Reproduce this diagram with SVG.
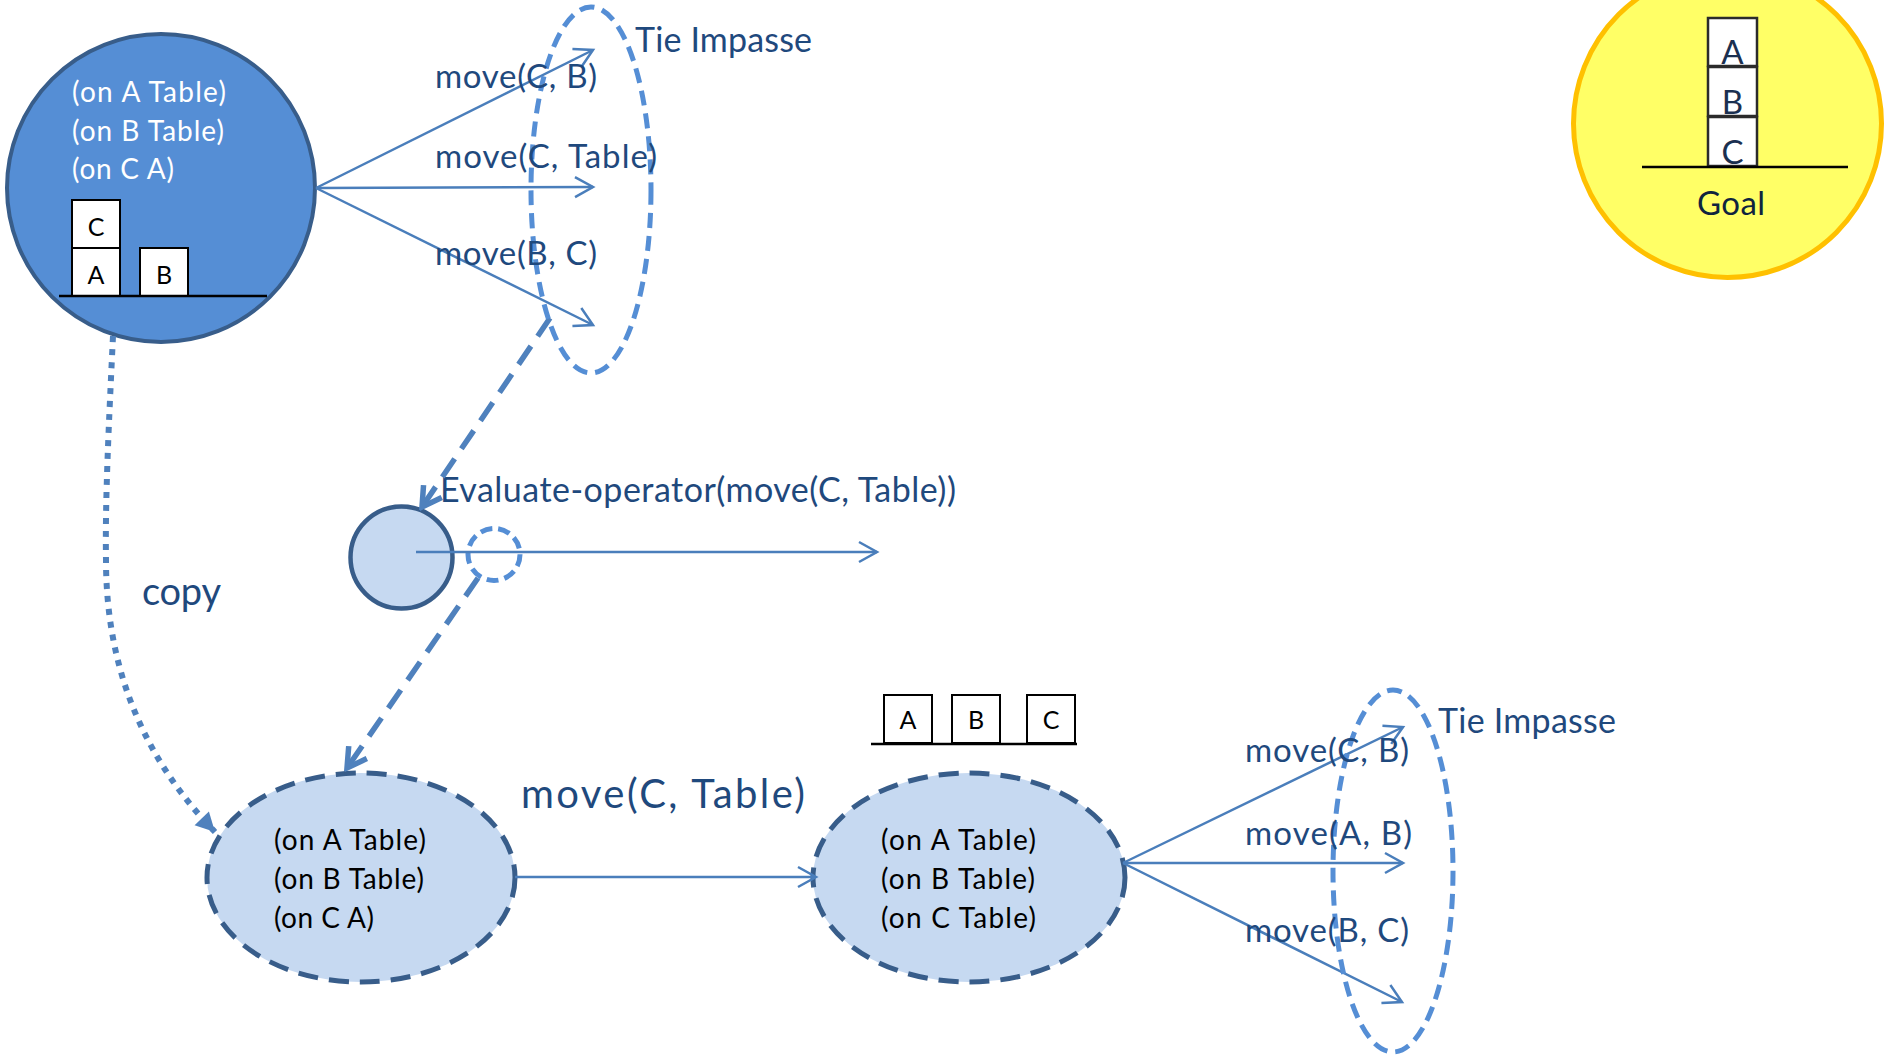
<svg xmlns="http://www.w3.org/2000/svg" width="1884" height="1055" viewBox="0 0 1884 1055">
  <style>
    text { font-family: "Lato", "Liberation Sans", sans-serif; }
    .lbl { fill: #1F497D; font-size: 33px; }
    .state-w { fill: #FFFFFF; font-size: 28px; }
    .state-k { fill: #000000; font-size: 28px; }
    .blk { fill: #FFFFFF; stroke: #000000; stroke-width: 2; }
    .blk-t { fill: #000000; font-size: 25px; text-anchor: middle; }
    .goal-blk { fill: #FFFFFF; stroke: #2B2B2B; stroke-width: 2.5; }
    .goal-t { fill: #1B3050; font-size: 33px; text-anchor: middle; }
    .ground { stroke: #000000; stroke-width: 2.5; }
    .op { fill: none; stroke: #4A7EBB; stroke-width: 2.5; marker-end: url(#open); }
    .sub { fill: none; stroke: #4F81BD; stroke-width: 5.5; stroke-dasharray: 22 12; marker-end: url(#openBold); }
    .impasse { fill: none; stroke: #558ED5; stroke-width: 5; stroke-dasharray: 15 8; }
    .sub-state { fill: #C6D9F1; stroke: #385D8A; stroke-width: 5; stroke-dasharray: 20 11; }
  </style>
  <defs>
    <marker id="open" markerUnits="userSpaceOnUse" viewBox="-22 -13 26 26" markerWidth="26" markerHeight="26" refX="0" refY="0" orient="auto">
      <path d="M-18,-10 L0,0 L-18,10" fill="none" stroke="#4A7EBB" stroke-width="2.5"/>
    </marker>
    <marker id="openBold" markerUnits="userSpaceOnUse" viewBox="-26 -16 30 32" markerWidth="30" markerHeight="32" refX="0" refY="0" orient="auto">
      <path d="M-19,-11 L0,0 L-19,11" fill="none" stroke="#4F81BD" stroke-width="5.5"/>
    </marker>
    <marker id="solidHead" markerUnits="userSpaceOnUse" viewBox="-22 -12 24 24" markerWidth="24" markerHeight="24" refX="0" refY="0" orient="auto">
      <path d="M-19,-10 L0,0 L-19,10 Z" fill="#4F81BD"/>
    </marker>
  </defs>

  <!-- initial state -->
  <g id="state-initial">
    <circle cx="161" cy="188" r="154" fill="#558ED5" stroke="#385D8A" stroke-width="4"/>
    <text class="state-w" x="72" y="102" textLength="154">(on A Table)</text>
    <text class="state-w" x="72" y="141" textLength="152">(on B Table)</text>
    <text class="state-w" x="72" y="179" textLength="102">(on C A)</text>
    <rect class="blk" x="72" y="200" width="48" height="48"/>
    <rect class="blk" x="72" y="248" width="48" height="48"/>
    <rect class="blk" x="140" y="248" width="48" height="48"/>
    <line class="ground" x1="59" y1="296" x2="267" y2="296"/>
    <text class="blk-t" x="96" y="236">C</text>
    <text class="blk-t" x="96" y="284">A</text>
    <text class="blk-t" x="164" y="284">B</text>
  </g>

  <!-- goal -->
  <g id="goal">
    <circle cx="1727.5" cy="123.5" r="154" fill="#FFFF66" stroke="#FFC000" stroke-width="5"/>
    <rect class="goal-blk" x="1708" y="18" width="49" height="48"/>
    <rect class="goal-blk" x="1708" y="67" width="49" height="49"/>
    <rect class="goal-blk" x="1708" y="117" width="49" height="49"/>
    <line class="ground" x1="1642" y1="167" x2="1848" y2="167"/>
    <text class="goal-t" x="1732.5" y="64">A</text>
    <text class="goal-t" x="1732.5" y="114">B</text>
    <text class="goal-t" x="1732.5" y="164">C</text>
    <text x="1697" y="215" textLength="68" style="fill:#0F243E; font-size:33px;">Goal</text>
  </g>

  <!-- evaluation substate -->
  <g id="evaluate">
    <circle cx="401.5" cy="557.5" r="51" fill="#C6D9F1" stroke="#385D8A" stroke-width="4.5"/>
    <circle cx="494" cy="554.5" r="26" fill="none" stroke="#558ED5" stroke-width="5" stroke-dasharray="12 6"/>
    <text class="lbl" x="440" y="502" textLength="516" style="font-size:34px;">Evaluate-operator(move(C, Table))</text>
  </g>

  <!-- copied state -->
  <g id="state-copy">
    <ellipse class="sub-state" cx="361" cy="877.5" rx="154" ry="104.5"/>
    <text class="state-k" x="274" y="850" textLength="152">(on A Table)</text>
    <text class="state-k" x="274" y="889" textLength="150">(on B Table)</text>
    <text class="state-k" x="274" y="928" textLength="100">(on C A)</text>
  </g>

  <!-- state after move(C, Table) -->
  <g id="state-after">
    <ellipse class="sub-state" cx="969" cy="877.5" rx="156" ry="104.5"/>
    <text class="state-k" x="881" y="850" textLength="155">(on A Table)</text>
    <text class="state-k" x="881" y="889" textLength="154">(on B Table)</text>
    <text class="state-k" x="881" y="928" textLength="155">(on C Table)</text>
    <rect class="blk" x="884" y="695" width="48" height="48"/>
    <rect class="blk" x="952" y="695" width="48" height="48"/>
    <rect class="blk" x="1027" y="695" width="48" height="48"/>
    <line class="ground" x1="871" y1="744" x2="1077" y2="744"/>
    <text class="blk-t" x="908" y="729">A</text>
    <text class="blk-t" x="976" y="729">B</text>
    <text class="blk-t" x="1051" y="729">C</text>
  </g>

  <!-- connectors -->
  <g id="connectors">
    <line class="op" x1="316" y1="188" x2="593" y2="50"/>
    <line class="op" x1="316" y1="188" x2="593" y2="187"/>
    <line class="op" x1="316" y1="188" x2="593" y2="325"/>
    <line class="op" x1="416" y1="552" x2="877" y2="552"/>
    <line class="op" x1="515" y1="877" x2="816" y2="877"/>
    <line class="op" x1="1123" y1="863" x2="1403" y2="727"/>
    <line class="op" x1="1123" y1="863" x2="1403" y2="863"/>
    <line class="op" x1="1123" y1="863" x2="1402" y2="1002"/>
    <line class="sub" x1="550" y1="318" x2="422" y2="507"/>
    <line class="sub" x1="478" y1="578" x2="347" y2="768"/>
    <path d="M113,336 C109,420 105,500 106,560 Q106,720 215,832" fill="none" stroke="#4F81BD" stroke-width="6" stroke-dasharray="6 7" marker-end="url(#solidHead)"/>
  </g>

  <!-- tie impasses -->
  <g id="impasse-top">
    <ellipse class="impasse" cx="591" cy="190" rx="60" ry="183"/>
    <text class="lbl" x="635" y="52" textLength="177" style="font-size:34px;">Tie Impasse</text>
  </g>
  <g id="impasse-bottom">
    <ellipse class="impasse" cx="1393" cy="871" rx="60" ry="181"/>
    <text class="lbl" x="1438" y="733" textLength="178" style="font-size:34px;">Tie Impasse</text>
  </g>

  <!-- operator labels -->
  <g id="labels">
    <text class="lbl" x="435" y="88" textLength="162">move(C, B)</text>
    <text class="lbl" x="435" y="168" textLength="222">move(C, Table)</text>
    <text class="lbl" x="435" y="265" textLength="162">move(B, C)</text>
    <text class="lbl" x="1245" y="762" textLength="164">move(C, B)</text>
    <text class="lbl" x="1245" y="845" textLength="167">move(A, B)</text>
    <text class="lbl" x="1245" y="942" textLength="164">move(B, C)</text>
    <text class="lbl" x="521" y="808" textLength="284" style="font-size:40px;">move(C, Table)</text>
    <text class="lbl" x="142" y="605" textLength="79" style="font-size:38px;">copy</text>
  </g>
</svg>
